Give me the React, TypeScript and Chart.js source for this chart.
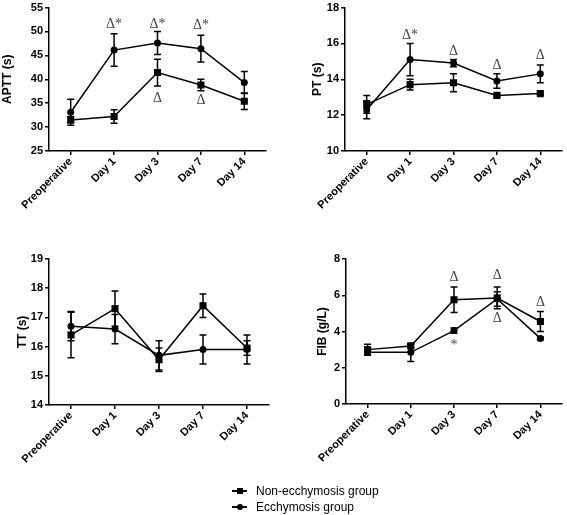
import React, { useEffect, useRef } from 'react';
import { Chart, registerables } from 'chart.js';

Chart.register(...registerables);

// ---------- DATA ----------
const categories = ['Preoperative', 'Day 1', 'Day 3', 'Day 7', 'Day 14'];

const seriesNames = ['Non-ecchymosis group', 'Ecchymosis group'];

// APTT (s)
const aptTicks = { min: 25, max: 55, step: 5 };
const aptNon = [31.5, 32.2, 41.4, 38.8, 35.4];
const aptNonErr = [0.6, 1.4, 2.8, 1.2, 1.7];
const aptEcch = [33.1, 46.1, 47.6, 46.4, 39.3];
const aptEcchErr = [2.7, 3.4, 2.4, 2.8, 2.3];
const aptMarks = [
  { index: 1, value: 51.5, text: 'Δ*' },
  { index: 2, value: 51.5, text: 'Δ*' },
  { index: 3, value: 51.3, text: 'Δ*' },
  { index: 2, value: 36.0, text: 'Δ' },
  { index: 3, value: 35.6, text: 'Δ' },
];

// PT (s)
const ptTicks = { min: 10, max: 18, step: 2 };
const ptNon = [12.6, 13.7, 13.8, 13.1, 13.2];
const ptNonErr = [0.5, 0.3, 0.5, 0.08, 0.08];
const ptEcch = [12.3, 15.1, 14.9, 13.9, 14.3];
const ptEcchErr = [0.5, 0.9, 0.2, 0.4, 0.5];
const ptMarks = [
  { index: 1, value: 16.45, text: 'Δ*' },
  { index: 2, value: 15.55, text: 'Δ' },
  { index: 3, value: 14.75, text: 'Δ' },
  { index: 4, value: 15.35, text: 'Δ' },
];

// TT (s)
const ttTicks = { min: 14, max: 19, step: 1 };
const ttNon = [16.4, 17.3, 15.55, 17.4, 15.95];
const ttNonErr = [0.78, 0.6, 0.4, 0.4, 0.25];
const ttEcch = [16.7, 16.6, 15.7, 15.9, 15.9];
const ttEcchErr = [0.5, 0.5, 0.5, 0.5, 0.5];
const ttMarks: { index: number; value: number; text: string }[] = [];

// FIB (g/L)
const fibTicks = { min: 0, max: 8, step: 2 };
const fibNon = [3.0, 3.2, 5.75, 5.85, 4.55];
const fibNonErr = [0.3, 0.1, 0.7, 0.6, 0.55];
const fibEcch = [2.85, 2.85, 4.05, 5.8, 3.62];
const fibEcchErr = [0.15, 0.5, 0.15, 0.4, 0.08];
const fibMarks = [
  { index: 2, value: 6.97, text: 'Δ' },
  { index: 2, value: 3.25, text: '*' },
  { index: 3, value: 7.08, text: 'Δ' },
  { index: 3, value: 4.75, text: 'Δ' },
  { index: 4, value: 5.6, text: 'Δ' },
];

// ---------- PLUGINS ----------
const errorBarPlugin = {
  id: 'errorBars',
  afterDatasetsDraw(chart: any) {
    const ctx = chart.ctx;
    const yScale = chart.scales.y;
    chart.data.datasets.forEach((ds: any, di: number) => {
      const meta = chart.getDatasetMeta(di);
      const errs: number[] = ds.errors || [];
      meta.data.forEach((pt: any, i: number) => {
        const v = ds.data[i];
        const e = errs[i];
        if (e == null) return;
        const x = pt.x;
        const yTop = yScale.getPixelForValue(v + e);
        const yBot = yScale.getPixelForValue(v - e);
        ctx.save();
        ctx.strokeStyle = '#000';
        ctx.lineWidth = 1.5;
        ctx.beginPath();
        ctx.moveTo(x, yTop);
        ctx.lineTo(x, yBot);
        ctx.moveTo(x - 3.5, yTop);
        ctx.lineTo(x + 3.5, yTop);
        ctx.moveTo(x - 3.5, yBot);
        ctx.lineTo(x + 3.5, yBot);
        ctx.stroke();
        ctx.restore();
      });
    });
  },
};

const marksPlugin = {
  id: 'sigMarks',
  afterDraw(chart: any, _args: any, opts: any) {
    const marks = opts.marks || [];
    const ctx = chart.ctx;
    ctx.save();
    ctx.fillStyle = '#444';
    ctx.font = '14px "Liberation Serif", "Times New Roman", serif';
    ctx.textAlign = 'center';
    ctx.textBaseline = 'middle';
    marks.forEach((m: any) => {
      const x = chart.scales.x.getPixelForValue(m.index);
      const y = chart.scales.y.getPixelForValue(m.value);
      ctx.fillText(m.text, x, y);
    });
    ctx.restore();
  },
};

// ---------- PANEL ----------
interface PanelProps {
  title: string;
  ticks: { min: number; max: number; step: number };
  non: number[];
  nonErr: number[];
  ecch: number[];
  ecchErr: number[];
  marks: { index: number; value: number; text: string }[];
  left: number;
  top: number;
  width: number;
  height: number;
  pad: { left: number; top: number; right: number; bottom: number };
  yWidth: number;
  xHeight: number;
}

const FONT = '"Liberation Sans", Arial, Helvetica, sans-serif';

function Panel(p: PanelProps) {
  const ref = useRef<HTMLCanvasElement>(null);
  useEffect(() => {
    if (!ref.current) return;
    const tickFont = { family: FONT, size: 11, weight: 'bold' as const, lineHeight: 1.0 };
    const chart = new Chart(ref.current, {
      type: 'line',
      data: {
        labels: categories,
        datasets: [
          {
            label: seriesNames[0],
            data: p.non,
            errors: p.nonErr,
            borderColor: '#000',
            backgroundColor: '#000',
            borderWidth: 1.5,
            pointStyle: 'rect',
            pointRadius: 5,
            pointBorderWidth: 0,
            tension: 0,
          } as any,
          {
            label: seriesNames[1],
            data: p.ecch,
            errors: p.ecchErr,
            borderColor: '#000',
            backgroundColor: '#000',
            borderWidth: 1.5,
            pointStyle: 'circle',
            pointRadius: 3.5,
            pointBorderWidth: 0,
            tension: 0,
          } as any,
        ],
      },
      options: {
        animation: false,
        responsive: false,
        maintainAspectRatio: false,
        events: [],
        layout: { padding: p.pad },
        plugins: {
          legend: { display: false },
          tooltip: { enabled: false },
          sigMarks: { marks: p.marks },
        } as any,
        scales: {
          x: {
            type: 'category',
            offset: true,
            grid: {
              display: true,
              drawOnChartArea: false,
              drawTicks: true,
              tickLength: 4,
              offset: false,
              color: '#000',
              lineWidth: 1.5,
            },
            border: { display: true, color: '#000', width: 1.5 },
            ticks: {
              autoSkip: false,
              minRotation: 45,
              maxRotation: 45,
              padding: 1,
              color: '#000',
              font: tickFont,
            },
            afterFit: (s: any) => {
              s.height = p.xHeight;
            },
          },
          y: {
            min: p.ticks.min,
            max: p.ticks.max,
            grid: {
              display: true,
              drawOnChartArea: false,
              drawTicks: true,
              tickLength: 4,
              color: '#000',
              lineWidth: 1.5,
            },
            border: { display: true, color: '#000', width: 1.5 },
            ticks: {
              stepSize: p.ticks.step,
              padding: 2,
              color: '#000',
              font: tickFont,
            },
            title: {
              display: true,
              text: p.title,
              color: '#000',
              font: { family: FONT, size: 12, weight: 'bold' },
              padding: { top: 0, bottom: 0 },
            },
            afterFit: (s: any) => {
              s.width = p.yWidth;
            },
          },
        },
      },
      plugins: [errorBarPlugin, marksPlugin],
    });
    return () => chart.destroy();
  }, []);
  return (
    <canvas
      ref={ref}
      width={p.width}
      height={p.height}
      style={{ position: 'absolute', left: p.left, top: p.top, width: p.width, height: p.height }}
    />
  );
}

function LegendRow({ y, square, text }: { y: number; square: boolean; text: string }) {
  return (
    <div style={{ position: 'absolute', left: 0, top: y - 10, height: 20, width: 567 }}>
      <div style={{ position: 'absolute', left: 232, top: 9.25, width: 15, height: 1.5, background: '#000' }} />
      {square ? (
        <div style={{ position: 'absolute', left: 236.5, top: 7, width: 6, height: 6, background: '#000' }} />
      ) : (
        <div style={{ position: 'absolute', left: 236.5, top: 7, width: 6, height: 6, background: '#000', borderRadius: 3 }} />
      )}
      <div
        style={{
          position: 'absolute',
          left: 256,
          top: 0,
          height: 20,
          lineHeight: '20px',
          fontFamily: FONT,
          fontSize: 12,
          color: '#000',
          whiteSpace: 'nowrap',
        }}
      >
        {text}
      </div>
    </div>
  );
}

export default function App() {
  return (
    <div style={{ position: 'absolute', left: 0, top: 0, width: 567, height: 515, background: '#fff', overflow: 'hidden' }}>
      <Panel
        title="APTT (s)"
        ticks={aptTicks}
        non={aptNon}
        nonErr={aptNonErr}
        ecch={aptEcch}
        ecchErr={aptEcchErr}
        marks={aptMarks}
        left={0}
        top={0}
        width={284}
        height={230}
        pad={{ left: 0, top: 6, right: 18, bottom: 0 }}
        yWidth={49}
        xHeight={79}
      />
      <Panel
        title="PT (s)"
        ticks={ptTicks}
        non={ptNon}
        nonErr={ptNonErr}
        ecch={ptEcch}
        ecchErr={ptEcchErr}
        marks={ptMarks}
        left={284}
        top={0}
        width={283}
        height={230}
        pad={{ left: 26, top: 5, right: 1, bottom: 0 }}
        yWidth={35}
        xHeight={79}
      />
      <Panel
        title="TT (s)"
        ticks={ttTicks}
        non={ttNon}
        nonErr={ttNonErr}
        ecch={ttEcch}
        ecchErr={ttEcchErr}
        marks={ttMarks}
        left={0}
        top={230}
        width={284}
        height={285}
        pad={{ left: 15, top: 29, right: 15, bottom: 0 }}
        yWidth={34}
        xHeight={110}
      />
      <Panel
        title="FIB (g/L)"
        ticks={fibTicks}
        non={fibNon}
        nonErr={fibNonErr}
        ecch={fibEcch}
        ecchErr={fibEcchErr}
        marks={fibMarks}
        left={284}
        top={230}
        width={283}
        height={285}
        pad={{ left: 31, top: 29, right: 1, bottom: 0 }}
        yWidth={31}
        xHeight={111}
      />
      <LegendRow y={491} square={true} text={seriesNames[0]} />
      <LegendRow y={507} square={false} text={seriesNames[1]} />
    </div>
  );
}
